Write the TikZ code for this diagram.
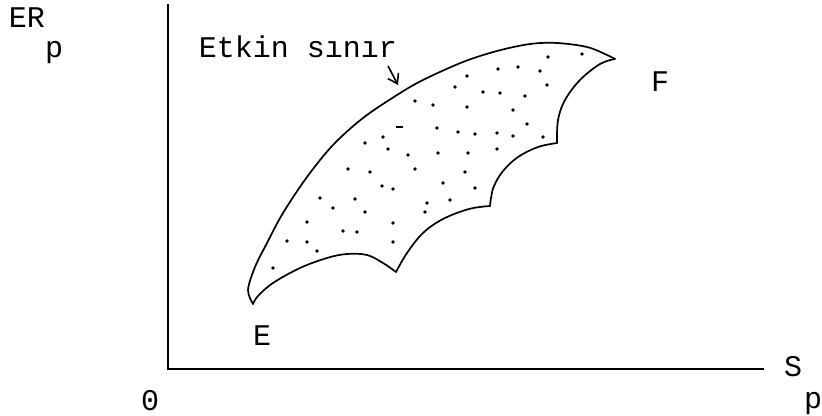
\documentclass[tikz,border=0pt]{standalone}
\usepackage{fontspec}
\setmonofont{Liberation Mono}
\usetikzlibrary{arrows.meta}
\tikzset{
  lbl/.style={anchor=base, inner sep=0pt, font=\ttfamily\fontsize{15}{18}\selectfont},
  axisline/.style={line width=1.1pt},
  bound/.style={line width=0.85pt, line join=round, line cap=round},
  dotmark/.style={fill=black}
}
\begin{document}
\begin{tikzpicture}[x=0.5pt,y=-0.5pt]
\useasboundingbox (0,0) rectangle (822,416);
% axes
\coordinate (ytop) at (168,4);
\coordinate (orig) at (168,369);
\coordinate (xend) at (764,369);
\draw[axisline] (ytop) -- (orig) -- (xend);
% labels
\node[lbl] (er) at (27,28) {ER};
\node[lbl] (erp) at (54,58) {p};
\node[lbl] (zero) at (150,410) {0};
\node[lbl] (s) at (793,376) {S};
\node[lbl] (sp) at (813,408) {p};
\node[lbl] (elab) at (262,345) {E};
\node[lbl] (flab) at (660,92) {F};
\node[lbl] (etkin) at (298,58) {Etkin s\i n\i r};
% region boundary
\draw[bound] plot[smooth, tension=0.55] coordinates {(253,304) (248,290) (255,267) (267,243) (283,213) (307,177) (333,145) (363,118) (397,95) (423,80) (463,62) (497,51) (530,44) (557,43) (587,47) (607,55) (615,59)};
\draw[bound] plot[smooth, tension=0.6] coordinates {(615,59) (600,64) (580,80) (565,100) (558,120) (557,143)};
\draw[bound] plot[smooth, tension=0.6] coordinates {(557,143) (538,147) (518,157) (503,171) (494,186) (491,198) (490,206)};
\draw[bound] plot[smooth, tension=0.6] coordinates {(490,206) (469,209) (443,219) (423,233) (407,253) (396,272)};
\draw[bound] plot[smooth, tension=0.6] coordinates {(396,272) (383,263) (367,255) (347,254) (327,258) (300,268) (273,283) (258,296) (253,304)};
% pointer arrow
\coordinate (arrS) at (388,66);
\coordinate (arrE) at (398,85);
\draw[line width=0.8pt, -{Straight Barb[length=4.5pt,width=6pt]}] (arrS) -- (arrE);
% dots
\foreach \p in {(548,57),(582,54),(467,76),(498,69),(518,67),(540,71),(547,85),(455,87),(483,92),(500,93),(525,96),(415,101),(433,105),(467,107),(513,110),(437,128),(458,132),(475,134),(497,133),(513,136),(527,124),(543,137),(365,143),(383,137),(388,149),(408,155),(438,153),(468,153),(497,149),(348,169),(370,172),(415,169),(465,172),(382,186),(393,189),(443,183),(475,188),(320,198),(355,199),(333,208),(365,212),(427,203),(450,200),(425,212),(307,222),(393,223),(343,231),(357,232),(287,241),(307,242),(393,242),(317,251),(273,268)}
  \fill[dotmark] \p circle (0.95pt);
\fill[dotmark] (396,126.5) rectangle (403,128.3);
\end{tikzpicture}
\end{document}
